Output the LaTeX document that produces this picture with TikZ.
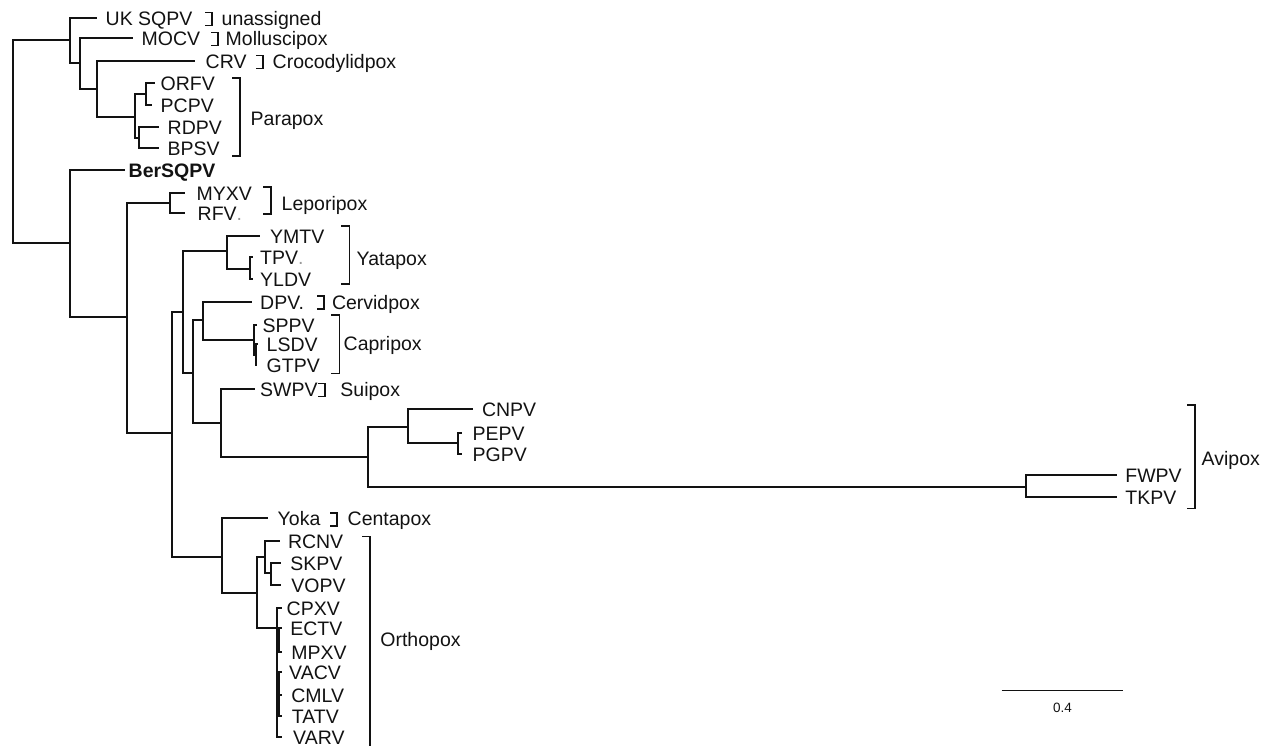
\documentclass[tikz,border=0pt]{standalone}
\usepackage{fontspec}
\setmainfont{Liberation Sans}
\usetikzlibrary{calc}
\definecolor{treeink}{RGB}{18,18,18}
\newcommand{\tipfont}{\fontsize{19.5}{22}\selectfont}
\newcommand{\scalefont}{\fontsize{13.5}{15}\selectfont}
% small bracket after a single taxon
\newcommand{\tickmark}[2]{\draw[cladebar] ({#1-7},{#2-5.5}) -| (#1,{#2+7.5}) -- ({#1-7},{#2+7.5});}

\begin{document}
\begin{tikzpicture}[x=1pt,y=-1pt,
 branch/.style={treeink,line width=2.3pt,line join=miter},
 cladebar/.style={treeink,line width=1.4pt},
 taxon/.style={anchor=base west,inner sep=0pt,font=\tipfont,text=treeink}]
 \useasboundingbox (0,0) rectangle (1262,746);
 % internal nodes
 \foreach \nm/\x/\y in {r/12.7/141.7,a/70/40,b/80/63.3,c/96.7/89.3,
   d/135/116.7,e/146/94.3,f/139.3/137.7,g/70/243.3,h/127/317,
   lep/170/203.3,i/171.7/433.3,j/182.7/311.7,yat/226.7/251,
   yat2/250/269.3,k/193.3/372.7,l/202.7/320,cap/254/340,
   cap2/255.7/355,sui/221/423.3,m/367.7/456.7,n/408.3/426.7,
   pe/458.3/442.7,av/1026/486.7,cen/221.7/556.7,o/256.7/593.3,
   rc/265/556.7,sk/271/573.3,orth/276.7/627.7,oe/278.5/640,
   ov/278.5/694}
  \coordinate (\nm) at (\x,\y);
 % tips: name/branch end/y/label x/label
 \foreach \nm/\x/\y/\lx/\lab in {UK/97/18.3/105.5/{UK SQPV},
   MOCV/133/38.3/141.5/MOCV,CRV/195/61/205.5/CRV,
   ORFV/155/83.3/160.5/ORFV,PCPV/151.7/105/160.5/PCPV,
   RDPV/159.3/126.7/167.5/RDPV,BPSV/159.3/148.3/167.5/BPSV,
   Ber/125/170/128.5/{\bfseries BerSQPV},
   MYXV/185/193.3/196.5/MYXV,RFV/185/213.3/197.5/{RFV\textcolor{black!40}{.}},
   YMTV/260/236/270/YMTV,TPV/252.5/257.3/260/{TPV\textcolor{black!40}{.}},
   YLDV/252.5/279.3/260/YLDV,DPV/251.7/301.7/260/{DPV.},
   SPPV/256.7/325/262.5/SPPV,LSDV/257.5/344.3/266.5/LSDV,
   GTPV/256.7/365/266.5/GTPV,SWPV/255/389/260/SWPV,
   CNPV/473.3/409.3/481.8/CNPV,PEPV/462/433.3/472.5/PEPV,
   PGPV/462/454/472.5/PGPV,FWPV/1116.7/475/1125.2/FWPV,
   TKPV/1116.7/496.7/1125.2/TKPV,Yoka/268.3/518.3/277.5/Yoka,
   RCNV/280/541/287.8/RCNV,SKPV/281/563.3/290.2/SKPV,
   VOPV/281/585/291.2/VOPV,CPXV/281.7/608.3/286.5/CPXV,
   ECTV/281.7/628.3/290.2/ECTV,MPXV/281.7/651.7/291.2/MPXV,
   VACV/281.7/671.7/289/VACV,CMLV/281.7/695/291.2/CMLV,
   TATV/281.7/716/291.7/TATV,VARV/281.7/736.7/293/VARV}{
  \coordinate (t\nm) at (\x,\y);
  \node[taxon] (l\nm) at (\lx,\y+7.5) {\lab};
 }
 % branches
 \foreach \p/\c in {r/a,r/g,a/tUK,a/b,b/tMOCV,b/c,c/tCRV,c/d,d/e,d/f,
   e/tORFV,e/tPCPV,f/tRDPV,f/tBPSV,g/tBer,g/h,h/lep,h/i,
   lep/tMYXV,lep/tRFV,i/j,i/cen,j/yat,j/k,yat/tYMTV,yat/yat2,
   yat2/tTPV,yat2/tYLDV,k/l,k/sui,l/tDPV,l/cap,cap/tSPPV,cap/cap2,
   cap2/tLSDV,cap2/tGTPV,sui/tSWPV,sui/m,m/n,m/av,n/tCNPV,n/pe,
   pe/tPEPV,pe/tPGPV,av/tFWPV,av/tTKPV,cen/tYoka,cen/o,o/rc,o/orth,
   rc/tRCNV,rc/sk,sk/tSKPV,sk/tVOPV,orth/tCPXV,orth/oe,orth/ov,
   orth/tVARV,oe/tECTV,oe/tMPXV,ov/tVACV,ov/tCMLV,ov/tTATV}
  \draw[branch] (\p) |- (\c);
 % group names
 \foreach \nm/\x/\y/\lab in {unas/221.5/18.3/unassigned,
   moll/225.5/38.3/Molluscipox,croc/272.5/61/Crocodylidpox,
   para/250.5/118/Parapox,lepo/281.5/203.3/Leporipox,
   yata/356.5/258/Yatapox,cerv/331.8/301.7/Cervidpox,
   capr/343.5/343/Capripox,suip/340.2/389/Suipox,
   avip/1201.5/458/Avipox,cent/347.5/518.3/Centapox,
   orpx/380.2/639.3/Orthopox}
  \node[taxon] (g\nm) at (\x,\y+7.5) {\lab};
 % clade brackets
 \foreach \x/\ya/\yb in {240/78/156,271/187/214,349.3/226/284,
   339.3/315/373.3,1195/405/508.3,370/536.7/760}
  \draw[cladebar] (\x-8,\ya) -| (\x,\yb) -- (\x-8,\yb);
 \foreach \x/\y in {212/18.3,218/38.3,263/61,324/301.7,325/389,337/518.3}
  \tickmark{\x}{\y}
 % scale bar
 \coordinate (sbl) at (1001.7,690.7);
 \coordinate (sbr) at (1123.3,690.7);
 \draw[cladebar,line width=1.3pt] (sbl) -- (sbr)
  node[midway,below=12pt,font=\scalefont,text=treeink,inner sep=0pt] (sblab) {0.4};
\end{tikzpicture}
\end{document}
